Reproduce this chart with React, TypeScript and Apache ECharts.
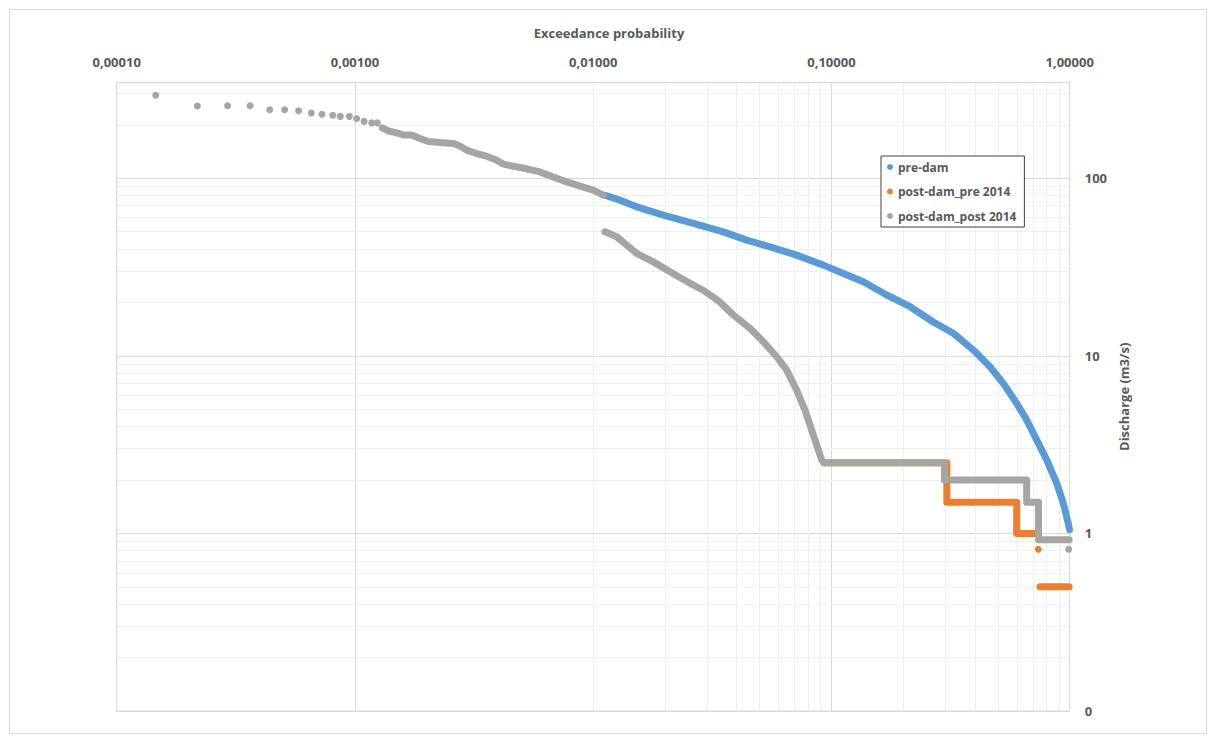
import React, { useEffect, useRef } from "react";
import * as echarts from "echarts";

// Axis ticks
const xMajorTicks = [0.0001, 0.001, 0.01, 0.1, 1];
const yMajorTicks = [0.1, 1, 10, 100];
const minorMultipliers = [2, 3, 4, 5, 6, 7, 8, 9];
const xMin = 0.0001;
const xMax = 1;
const yMin = 0.1;
const yMax = 345;

// pre-dam (blue)
const preDam: number[][] = [
  [0.0112, 80.2], [0.01296, 75.2], [0.01523, 69.0], [0.0197, 61.9], [0.0263, 55.6],
  [0.0352, 49.9], [0.0441, 44.8], [0.0552, 41.1], [0.0714, 36.9], [0.0925, 32.4],
  [0.1122, 29.1], [0.136, 26.1], [0.1706, 22.0], [0.214, 18.9], [0.2676, 15.5],
  [0.3247, 13.4], [0.394, 10.77], [0.463, 8.68], [0.526, 7.0], [0.599, 5.4],
  [0.66, 4.35], [0.751, 3.08], [0.801, 2.59], [0.882, 1.92], [0.94, 1.48],
  [0.986, 1.14], [0.998, 1.05],
];

// post-dam_pre 2014 (orange)
const postPreSteps: number[][] = [
  [0.093, 2.5], [0.305, 2.5], [0.305, 1.5], [0.599, 1.5], [0.599, 1.0], [0.74, 1.0],
];
const postPreDot: number[][] = [[0.738, 0.815]];
const postPreLow: number[][] = [[0.75, 0.5], [0.995, 0.5]];

// post-dam_post 2014 (gray)
const postPostDots: number[][] = [
  [0.0001458, 293], [0.000218, 255], [0.000292, 256], [0.000363, 256], [0.000439, 243],
  [0.000507, 243], [0.00058, 240], [0.000656, 233], [0.000727, 229], [0.000807, 226],
  [0.000868, 223], [0.000947, 223], [0.001017, 217], [0.001092, 209], [0.001176, 205],
  [0.001241, 205],
];
const postPostUpper: number[][] = [
  [0.001303, 192], [0.00138, 184.5], [0.001472, 181], [0.001596, 175.3], [0.00173, 175],
  [0.001875, 167.2], [0.00203, 161], [0.002275, 158.8], [0.00259, 157], [0.00276, 152],
  [0.00294, 144], [0.00324, 137.7], [0.00357, 133], [0.00394, 126.3], [0.0042, 120],
  [0.00478, 115.8], [0.00526, 113], [0.00598, 108.5], [0.0068, 101.7], [0.00775, 95.3],
  [0.00881, 90.2], [0.01, 85.6], [0.01102, 80.2],
];
const postPostLower: number[][] = [
  [0.0112, 49.9], [0.01255, 46.8], [0.01382, 42.0], [0.01523, 37.7], [0.01788, 33.8],
  [0.021, 29.7], [0.0255, 25.6], [0.029, 23.4], [0.034, 20.1], [0.0387, 17.0],
  [0.0455, 14.3], [0.0518, 12.0], [0.0589, 9.88], [0.0649, 8.31], [0.0714, 6.42],
  [0.0774, 4.95], [0.0826, 3.82], [0.0881, 2.95], [0.091, 2.59], [0.093, 2.5],
  [0.298, 2.5], [0.298, 2.0], [0.66, 2.0], [0.66, 1.5], [0.74, 1.5], [0.74, 0.92],
  [0.995, 0.92],
];
const postPostEndDot: number[][] = [[0.99, 0.815]];

const BLUE = "#5b9bd5";
const ORANGE = "#ed7d31";
const GRAY = "#a5a5a5";
const TEXT = "#595959";
const FONT = "'Open Sans', 'Liberation Sans', sans-serif";
const LINE_W = 7;
const DOT = 7;

function lineSeries(name: string, data: number[][], color: string, z: number) {
  return {
    name,
    type: "line",
    data,
    z,
    showSymbol: false,
    symbol: "circle",
    symbolSize: DOT,
    itemStyle: { color },
    lineStyle: { color, width: LINE_W, cap: "round", join: "round" },
    silent: true,
  };
}
function dotSeries(name: string, data: number[][], color: string, z: number) {
  return {
    name,
    type: "scatter",
    data,
    z,
    symbol: "circle",
    symbolSize: DOT,
    itemStyle: { color, opacity: 1 },
    silent: true,
  };
}

export default function App() {
  const ref = useRef<HTMLDivElement>(null);
  useEffect(() => {
    if (!ref.current) return;
    const chart = echarts.init(ref.current, null, { renderer: "svg" });

    const xMinor: number[] = [];
    xMajorTicks.slice(0, -1).forEach((d) => minorMultipliers.forEach((m) => xMinor.push(d * m)));
    const yMinor: number[] = [];
    yMajorTicks.forEach((d) =>
      minorMultipliers.forEach((m) => {
        if (d * m < yMax) yMinor.push(d * m);
      })
    );

    const option: any = {
      animation: false,
      backgroundColor: "#ffffff",
      textStyle: { fontFamily: FONT },
      grid: {
        left: 116.7,
        top: 82.7,
        right: 146.3,
        bottom: 32,
        show: true,
        borderColor: "#d9d9d9",
        borderWidth: 1,
      },
      graphic: [
        {
          type: "rect",
          shape: { x: 9.5, y: 9.5, width: 1197, height: 724 },
          style: { fill: "none", stroke: "#d9d9d9", lineWidth: 1 },
          silent: true,
          z: -10,
        },
        {
          type: "text",
          x: 609,
          y: 33,
          style: {
            text: "Exceedance probability",
            fill: TEXT,
            font: `bold 13px ${FONT}`,
            textAlign: "center",
            textVerticalAlign: "middle",
          },
          silent: true,
        },
      ],
      legend: {
        orient: "vertical",
        left: 881,
        top: 156,
        z: 20,
        padding: [5, 8, 5, 6],
        itemGap: 12.5,
        itemWidth: 6,
        itemHeight: 6,
        borderColor: "#404040",
        borderWidth: 1,
        backgroundColor: "#ffffff",
        textStyle: { color: TEXT, fontSize: 12, fontWeight: "bold", fontFamily: FONT },
        data: [
          { name: "pre-dam", icon: "circle" },
          { name: "post-dam_pre 2014", icon: "circle" },
          { name: "post-dam_post 2014", icon: "circle" },
        ],
        selectedMode: false,
      },
      xAxis: {
        type: "log",
        logBase: 10,
        position: "top",
        min: xMin,
        max: xMax,
        axisLine: { show: true, lineStyle: { color: "#d9d9d9" } },
        axisTick: { show: false },
        axisLabel: {
          color: TEXT,
          fontSize: 13,
          fontWeight: "bold",
          fontFamily: FONT,
          margin: 14,
          formatter: (v: number) => v.toFixed(5).replace(".", ","),
        },
        splitLine: { show: true, lineStyle: { color: "#d9d9d9", width: 1 } },
      },
      yAxis: {
        type: "log",
        logBase: 10,
        position: "right",
        min: yMin,
        max: yMax,
        name: "Discharge (m3/s)",
        nameLocation: "middle",
        nameRotate: 90,
        nameGap: 46,
        nameTextStyle: { color: TEXT, fontSize: 13, fontWeight: "bold", fontFamily: FONT },
        axisLine: { show: true, lineStyle: { color: "#d9d9d9" } },
        axisTick: { show: false },
        axisLabel: {
          color: TEXT,
          fontSize: 13,
          fontWeight: "bold",
          fontFamily: FONT,
          margin: 15,
          showMaxLabel: false,
          formatter: (v: number) => (v < 1 ? "0" : String(Math.round(v))),
        },
        splitLine: { show: true, lineStyle: { color: "#d9d9d9", width: 1 } },
      },
      series: [
        {
          name: "__minorGrid",
          type: "line",
          data: [[1, 1]],
          showSymbol: false,
          lineStyle: { opacity: 0 },
          z: 0,
          zlevel: 0,
          silent: true,
          markLine: {
            silent: true,
            z: 0,
            symbol: ["none", "none"],
            label: { show: false },
            lineStyle: { color: "#efefef", width: 1, type: "solid" },
            emphasis: { disabled: true },
            data: [
              ...xMinor.map((v) => ({ xAxis: v })),
              ...yMinor.map((v) => ({ yAxis: v })),
            ],
          },
        },
        lineSeries("pre-dam", preDam, BLUE, 3),
        lineSeries("post-dam_pre 2014", postPreSteps, ORANGE, 4),
        dotSeries("post-dam_pre 2014", postPreDot, ORANGE, 4),
        lineSeries("post-dam_pre 2014", postPreLow, ORANGE, 4),
        dotSeries("post-dam_post 2014", postPostDots, GRAY, 5),
        lineSeries("post-dam_post 2014", postPostUpper, GRAY, 5),
        lineSeries("post-dam_post 2014", postPostLower, GRAY, 5),
        dotSeries("post-dam_post 2014", postPostEndDot, GRAY, 5),
      ],
    };
    chart.setOption(option);
    return () => chart.dispose();
  }, []);
  return (
    <div
      ref={ref}
      style={{ position: "absolute", left: 0, top: 0, width: 1216, height: 743 }}
    />
  );
}
